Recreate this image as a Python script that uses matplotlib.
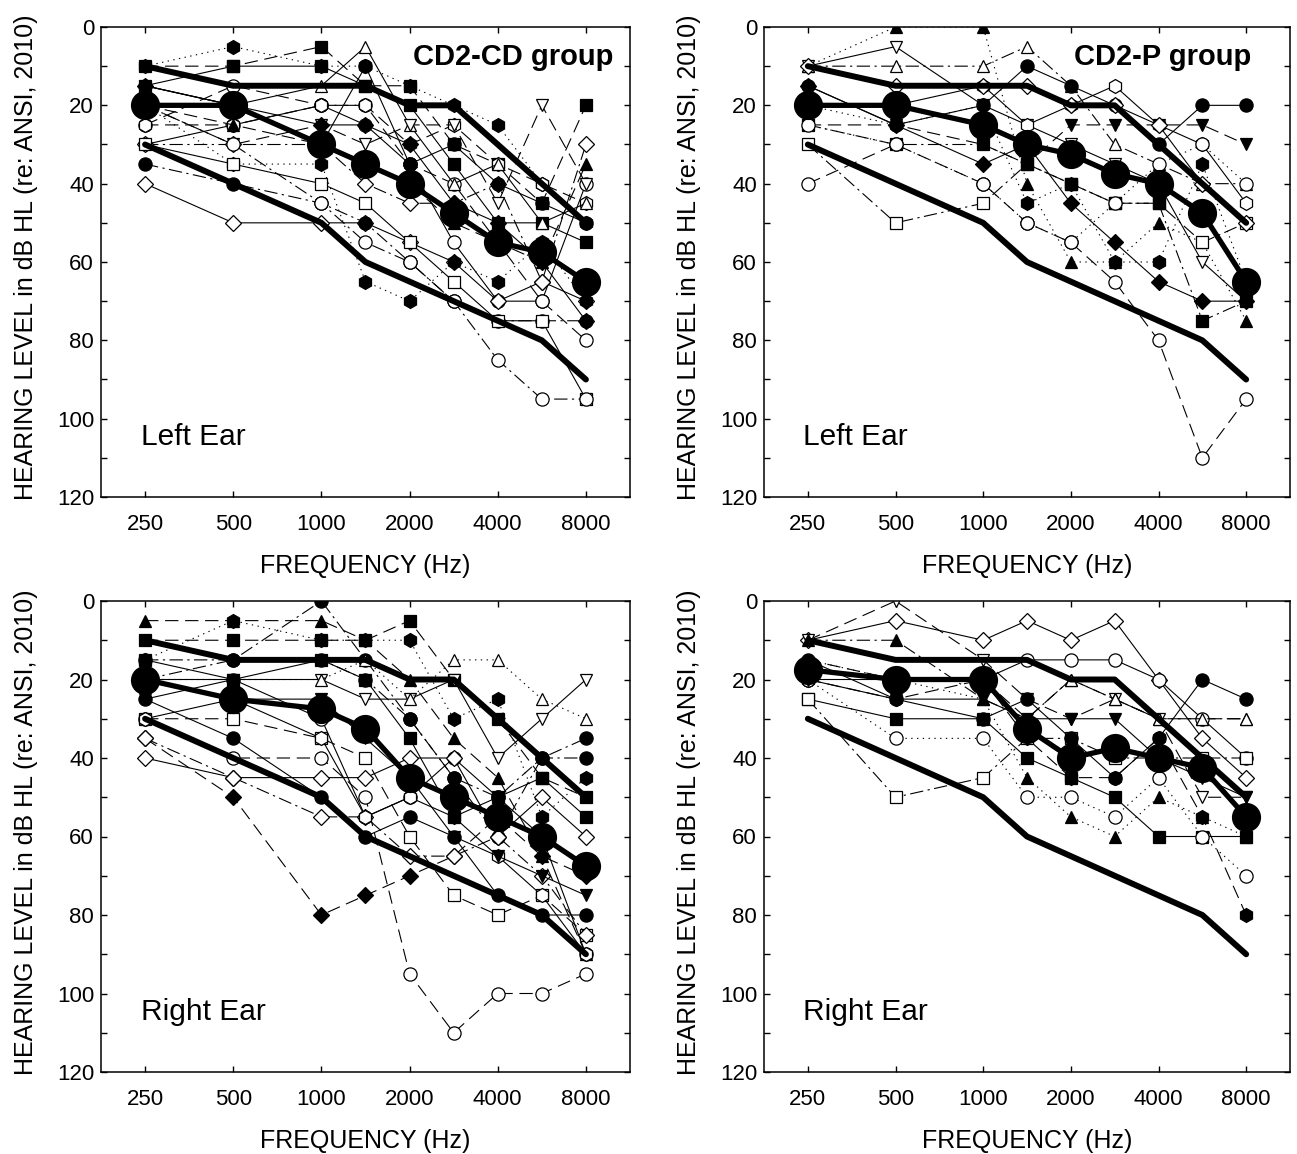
import numpy as np
import matplotlib
matplotlib.use('Agg')
import matplotlib.pyplot as plt

plt.rcParams['font.family'] = ['Liberation Sans', 'DejaVu Sans']

# audiometric test frequencies (Hz)
FREQS = [250, 500, 1000, 1500, 2000, 3000, 4000, 6000, 8000]
TICK_FREQS = [250, 500, 1000, 2000, 4000, 8000]

# normative range (thick lines)
NORM_UPPER = [10, 15, 15, 15, 20, 20, 30, 40, 50]
NORM_LOWER = [30, 40, 50, 60, 65, 70, 75, 80, 90]

# group means (big filled circles)
CD_LEFT_MEAN = [20, 20, 30, 35, 40, 47.5, 55, 57.5, 65]
P_LEFT_MEAN = [20, 20, 25, 30, 32.5, 37.5, 40, 47.5, 65]
CD_RIGHT_MEAN = [20, 25, 27.5, 32.5, 45, 50, 55, 60, 67.5]
P_RIGHT_MEAN = [17.5, 20, 20, 32.5, 40, 37.5, 40, 42.5, 55]

# individual audiograms, dB HL
CD_LEFT = [
    [10, 10, 5, 15, 15, 30, 35, 45, 20],
    [10, 5, 10, 10, 15, 20, 25, 40, 50],
    [15, 10, 10, 15, 20, 35, 50, 50, 55],
    [25, 15, 20, 20, 35, 40, 55, 70, 80],
    [30, 25, 20, 25, 35, 55, 70, 70, 40],
    [30, 30, 30, 40, 45, 45, 40, 65, 30],
    [40, 50, 50, 50, 55, 60, 70, 65, 70],
    [35, 40, 45, 50, 60, 70, 75, 75, 75],
    [25, 25, 20, 20, 30, 25, 35, 40, 45],
    [15, 20, 15, 5, 25, 40, 35, 50, 45],
    [20, 30, 25, 30, 25, 25, 45, 20, 40],
    [15, 20, 25, 25, 30, 45, 50, 60, 75],
    [20, 35, 35, 65, 70, 60, 65, 55, 70],
    [30, 35, 40, 45, 55, 65, 75, 75, 95],
    [20, 30, 45, 55, 60, 70, 85, 95, 95],
    [20, 25, 30, 35, 40, 50, 55, 60, 35],
    [15, 20, 30, 10, 35, 30, 40, 45, 50],
]
CD_LEFT_MARKS = ['sF', 'hF', 'sF', 'oO', 'oO', 'DO', 'DO', 'oF', 'hO',
                 '^O', 'vO', 'DF', 'hF', 'sO', 'oO', '^F', 'oF']
CD_LEFT_LINES = ['dash', 'dot', 'solid', 'dash', 'solid', 'dashdot', 'solid',
                 'dashdot', 'dash', 'solid', 'dash', 'solid', 'dot', 'solid',
                 'dashdot', 'dash', 'solid']

P_LEFT = [
    [10, 0, 0, 40, 60, 60, 50, 55, 75],
    [10, 5, 20, 25, 30, 35, 40, 60, 70],
    [10, 10, 10, 5, 15, 30, 35, 40, 40],
    [15, 25, 20, 10, 15, 20, 30, 20, 20],
    [25, 25, 30, 35, 25, 25, 25, 25, 30],
    [30, 50, 45, 35, 40, 45, 45, 55, 50],
    [40, 30, 40, 50, 55, 65, 80, 110, 95],
    [15, 25, 35, 30, 45, 55, 65, 70, 70],
    [20, 20, 15, 25, 20, 15, 25, 30, 45],
    [25, 30, 30, 35, 40, 45, 45, 75, 70],
    [10, 15, 15, 15, 20, 20, 25, 40, 50],
    [20, 25, 20, 45, 40, 60, 60, 35, 65],
    [25, 30, 40, 50, 55, 45, 35, 30, 40],
]
P_LEFT_MARKS = ['^F', 'vO', '^O', 'oF', 'vF', 'sO', 'oO', 'DF', 'hO',
                'sF', 'DO', 'hF', 'oO']
P_LEFT_LINES = ['dot', 'solid', 'dashdot', 'solid', 'dash', 'dashdot', 'dash',
                'solid', 'solid', 'dashdot', 'solid', 'dot', 'dot']

CD_RIGHT = [
    [5, 5, 5, 10, 20, 35, 45, 65, 90],
    [10, 10, 10, 10, 5, 20, 30, 45, 50],
    [15, 15, 0, 15, 30, 45, 60, 40, 35],
    [15, 5, 10, 10, 10, 30, 25, 55, 45],
    [20, 20, 30, 55, 50, 40, 50, 60, 90],
    [30, 30, 35, 40, 60, 75, 80, 75, 85],
    [40, 45, 45, 45, 40, 40, 60, 50, 60],
    [35, 50, 80, 75, 70, 65, 55, 65, 70],
    [30, 40, 40, 50, 95, 110, 100, 100, 95],
    [25, 20, 20, 25, 25, 20, 40, 30, 20],
    [20, 20, 20, 15, 25, 15, 15, 25, 30],
    [25, 35, 50, 60, 55, 60, 75, 80, 80],
    [35, 45, 55, 55, 65, 65, 60, 70, 85],
    [30, 25, 35, 55, 50, 55, 65, 75, 90],
    [15, 20, 15, 20, 35, 55, 50, 45, 55],
    [20, 25, 25, 35, 45, 60, 65, 70, 75],
    [20, 15, 15, 20, 30, 45, 50, 40, 40],
]
CD_RIGHT_MARKS = ['^F', 'sF', 'oF', 'hF', 'oO', 'sO', 'DO', 'DF', 'oO',
                  'vO', '^O', 'oF', 'DO', 'hO', 'sF', 'vF', 'oF']
CD_RIGHT_LINES = ['dash', 'dash', 'dashdot', 'dot', 'solid', 'dash', 'solid',
                  'dash', 'dash', 'solid', 'dot', 'solid', 'dashdot', 'solid',
                  'solid', 'solid', 'dashdot']

P_RIGHT = [
    [10, 5, 10, 5, 10, 5, 20, 35, 45],
    [10, 0, 15, 25, 30, 25, 30, 50, 50],
    [10, 10, 25, 30, 20, 25, 30, 30, 30],
    [20, 20, 20, 15, 15, 15, 20, 30, 40],
    [20, 25, 20, 35, 45, 45, 35, 55, 80],
    [25, 30, 30, 40, 45, 50, 60, 60, 60],
    [20, 35, 35, 50, 50, 55, 45, 60, 70],
    [25, 50, 45, 35, 35, 40, 40, 40, 40],
    [15, 20, 25, 45, 55, 60, 50, 55, 60],
    [15, 25, 30, 25, 35, 45, 35, 20, 25],
    [15, 20, 20, 30, 20, 25, 30, 30, 30],
    [20, 25, 25, 30, 30, 30, 40, 45, 50],
]
P_RIGHT_MARKS = ['DO', 'vO', '^F', 'oO', 'hF', 'sF', 'oO', 'sO', '^F',
                 'oF', '^O', 'vF']
P_RIGHT_LINES = ['solid', 'dash', 'dashdot', 'solid', 'dash', 'solid', 'dot',
                 'dashdot', 'dot', 'solid', 'dash', 'solid']

DASHES = {
    'solid': None,
    'dash': (12, 6),
    'dashdot': (12, 4, 2, 4),
    'dot': (1.2, 4),
}
MSIZE = {'o': 9.5, 's': 8, 'D': 8, '^': 9, 'v': 9, 'h': 10}


def freq_pos(f):
    # octave frequencies sit on whole steps, inter-octave ones half way
    k = np.log2(f / 250)
    return k if float(k).is_integer() else np.floor(k) + 0.5


XPOS = np.array([freq_pos(f) for f in FREQS])


def audiogram(ax, curves, marks, lines, mean, group, ear):
    for vals, mk, ls in zip(curves, marks, lines):
        m, fill = mk[0], mk[1]
        kw = dict(color='black', lw=0.8, marker=m, ms=MSIZE[m],
                  mec='black', mew=0.9,
                  mfc='black' if fill == 'F' else 'white', zorder=2)
        if DASHES[ls] is not None:
            kw['dashes'] = DASHES[ls]
        ax.plot(XPOS, vals, **kw)
    ax.plot(XPOS, NORM_UPPER, color='black', lw=4.3, zorder=3, solid_capstyle='round')
    ax.plot(XPOS, NORM_LOWER, color='black', lw=4.3, zorder=3, solid_capstyle='round')
    ax.plot(XPOS, mean, color='black', lw=3.8, marker='o', ms=20, zorder=4)

    ax.set_xlim(-0.5, 5.5)
    ax.set_ylim(120, 0)
    ax.set_xticks([freq_pos(f) for f in TICK_FREQS])
    ax.set_xticklabels([str(f) for f in TICK_FREQS])
    ax.set_yticks(np.arange(0, 121, 10))
    ax.set_yticklabels([str(v) if v % 20 == 0 else '' for v in range(0, 121, 10)])
    ax.tick_params(direction='in', top=True, right=True, length=4.5, width=1,
                   labelsize=16)
    ax.tick_params(axis='x', pad=12)
    ax.tick_params(axis='y', pad=5)
    for sp in ax.spines.values():
        sp.set_linewidth(1.1)

    ax.set_xlabel('FREQUENCY (Hz)', fontsize=18)
    ax.xaxis.label.set_va('center')
    ax.xaxis.set_label_coords(0.5, -0.146)
    ax.set_ylabel('HEARING LEVEL in dB HL (re: ANSI, 2010)', fontsize=18)
    ax.yaxis.label.set_va('center')
    ax.yaxis.set_label_coords(-0.142, 0.51)

    ax.text(0.075, 0.11, ear, transform=ax.transAxes, fontsize=21.5,
            ha='left', va='baseline')
    if group:
        ax.text(0.59, 0.936, group, transform=ax.transAxes, fontsize=21,
                fontweight='bold', ha='left', va='center')


W, H = 1297, 1154
fig = plt.figure(figsize=(W / 100, H / 100), dpi=100)


def rect(l, r, t, b):
    return [l / W, 1 - b / H, (r - l) / W, (b - t) / H]


ax_tl = fig.add_axes(rect(101, 630, 27, 497))
ax_tr = fig.add_axes(rect(764, 1290, 27, 497))
ax_bl = fig.add_axes(rect(101, 630, 601, 1072))
ax_br = fig.add_axes(rect(764, 1290, 601, 1072))

audiogram(ax_tl, CD_LEFT, CD_LEFT_MARKS, CD_LEFT_LINES, CD_LEFT_MEAN,
          'CD2-CD group', 'Left Ear')
audiogram(ax_tr, P_LEFT, P_LEFT_MARKS, P_LEFT_LINES, P_LEFT_MEAN,
          'CD2-P group', 'Left Ear')
audiogram(ax_bl, CD_RIGHT, CD_RIGHT_MARKS, CD_RIGHT_LINES, CD_RIGHT_MEAN,
          None, 'Right Ear')
audiogram(ax_br, P_RIGHT, P_RIGHT_MARKS, P_RIGHT_LINES, P_RIGHT_MEAN,
          None, 'Right Ear')

fig.savefig('out.png', dpi=100)
